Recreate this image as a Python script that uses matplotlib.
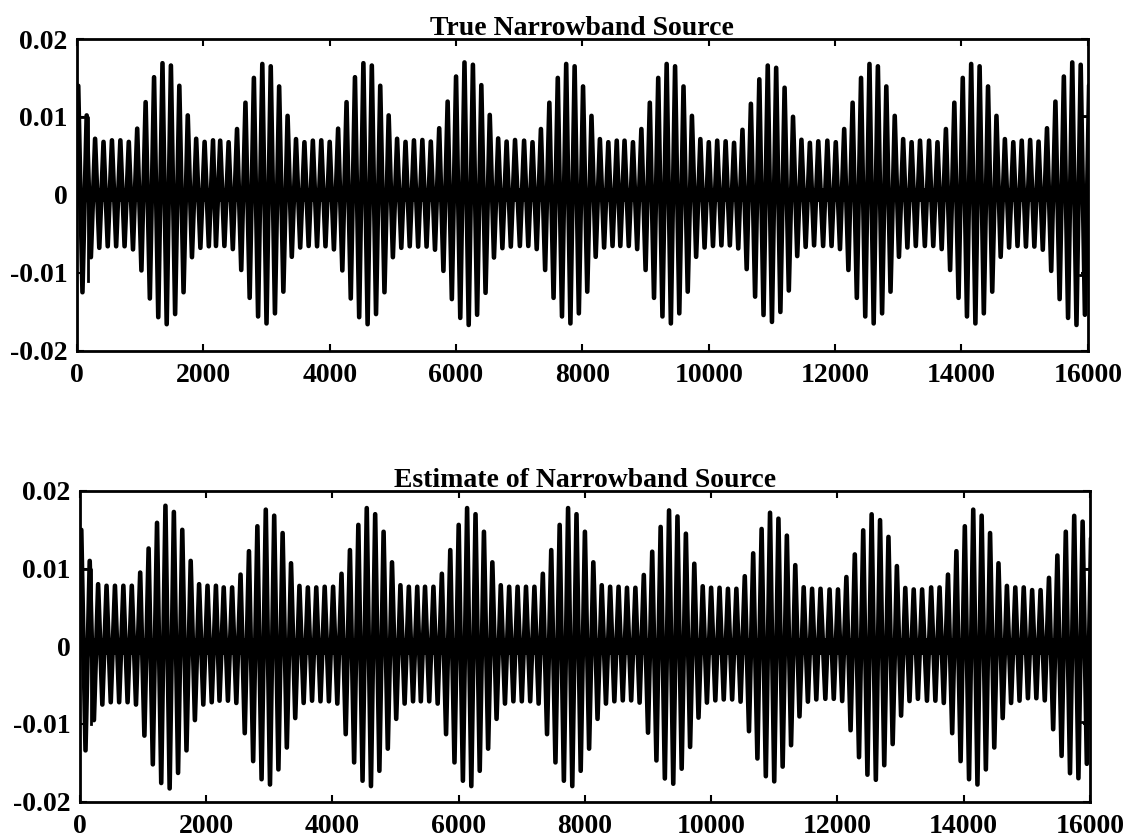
# Narrowband source: true signal vs. estimate, drawn as the peak/trough
# sequence of each carrier cycle (12 cycles per beat).

import matplotlib.pyplot as plt
import numpy as np

plt.rcParams['font.family'] = ['Liberation Serif', 'DejaVu Serif']
plt.rcParams['font.weight'] = 'bold'

# ---------------------------------------------------------------------
# values
XMAX = 16000
BEAT = 1600            # samples between bursts
CYCLES = 12            # carrier cycles per beat

# centres of the bursts (deepest trough)
centres_true = [1420, 3000, 4600, 6200, 7810, 9400, 11000, 12610, 14220, 15820]
centres_est = [1420, 3010, 4610, 6200, 7800, 9400, 11000, 12610, 14220, 15820]

# tallest crest of each burst
crest_true = [0.0169, 0.0168, 0.0169, 0.0170, 0.0168, 0.0168, 0.0166, 0.0168, 0.0168, 0.0170]
crest_est = [0.0181, 0.0176, 0.0178, 0.0178, 0.0178, 0.0175, 0.0172, 0.0170, 0.0176, 0.0168]

# crest heights, half cycles -5.5 .. +5.5 around a burst centre
pos_true = [0.0070, 0.0068, 0.0085, 0.0119, 0.0151, 0.0169, 0.0166, 0.0140, 0.0102, 0.0072, 0.0068, 0.0070]
pos_est = [0.0078, 0.0078, 0.0095, 0.0126, 0.0159, 0.0181, 0.0173, 0.0150, 0.0110, 0.0080, 0.0078, 0.0078]
# trough depths, cycles -6 .. +5
neg_true = [-0.0066, -0.0066, -0.0070, -0.0097, -0.0133, -0.0157, -0.0166, -0.0153, -0.0125, -0.0080, -0.0068, -0.0066]
neg_est = [-0.0072, -0.0072, -0.0075, -0.0115, -0.0152, -0.0176, -0.0183, -0.0163, -0.0134, -0.0095, -0.0075, -0.0072]

# dark band round zero (fast low-level component)
band_true = 0.0009
band_est = 0.0011

# small step traces at both ends of each record
step_left_x = [0, 170, 170]
step_left_true = [0.0100, 0.0100, -0.0110]
step_left_est = [0.0100, 0.0100, -0.0100]
step_right_x = [15880, 16000]
step_right_true = [[0.0101, 0.0101], [-0.0103, -0.0103]]
step_right_est = [[0.0100, 0.0100], [-0.0098, -0.0098]]

ytick_vals = [-0.02, -0.01, 0, 0.01, 0.02]
ytick_labels = ['-0.02', '-0.01', '0', '0.01', '0.02']
xtick_vals = [0, 2000, 4000, 6000, 8000, 10000, 12000, 14000, 16000]
xtick_labels = ['0', '2000', '4000', '6000', '8000', '10000', '12000', '14000', '16000']

titles = ['True Narrowband Source', 'Estimate of Narrowband Source']


def extrema(centres, crests, pos, neg):
    # one block of crests/troughs per burst, plus the burst before the record
    dt = BEAT / CYCLES
    cs = [centres[0] - BEAT] + list(centres)
    ss = [crests[0]] + list(crests)
    xs, ys = [], []
    for c, s in zip(cs, ss):
        g = s / max(pos)
        for k in range(-6, 6):
            xs.append(c + dt * k)
            ys.append(neg[k + 6] * g)
            xs.append(c + dt * (k + 0.5))
            ys.append(pos[k + 6] * g)
    xs = np.array(xs)
    ys = np.array(ys)
    o = np.argsort(xs)
    return xs[o], ys[o]


def panel(ax, title, centres, crests, pos, neg, band, left_y, right_y):
    x, y = extrema(centres, crests, pos, neg)
    ax.fill_between([0, XMAX], [-band, -band], [band, band], color='black', lw=0)
    ax.plot(x, y, color='black', lw=3.3, solid_joinstyle='round')
    ax.plot(step_left_x, left_y, color='black', lw=2)
    for ry in right_y:
        ax.plot(step_right_x, ry, color='black', lw=2)
    ax.set_xlim(0, XMAX)
    ax.set_ylim(-0.02, 0.02)
    ax.set_xticks(xtick_vals)
    ax.set_xticklabels(xtick_labels)
    ax.set_yticks(ytick_vals)
    ax.set_yticklabels(ytick_labels)
    ax.tick_params(direction='in', top=True, right=True, length=5, width=1.5,
                   labelsize=20)
    ax.tick_params(axis='x', pad=9)
    ax.tick_params(axis='y', pad=7)
    for sp in ax.spines.values():
        sp.set_linewidth(2)
    ax.set_title(title, fontsize=20, fontweight='bold', pad=3)


fig = plt.figure(figsize=(11.32, 8.39), dpi=100)
ax1 = fig.add_axes([0.068, 0.582, 0.893, 0.3715])
ax2 = fig.add_axes([0.0707, 0.0445, 0.892, 0.3703])

panel(ax1, titles[0], centres_true, crest_true, pos_true, neg_true, band_true,
      step_left_true, step_right_true)
panel(ax2, titles[1], centres_est, crest_est, pos_est, neg_est, band_est,
      step_left_est, step_right_est)

fig.savefig('out.png', dpi=100)
